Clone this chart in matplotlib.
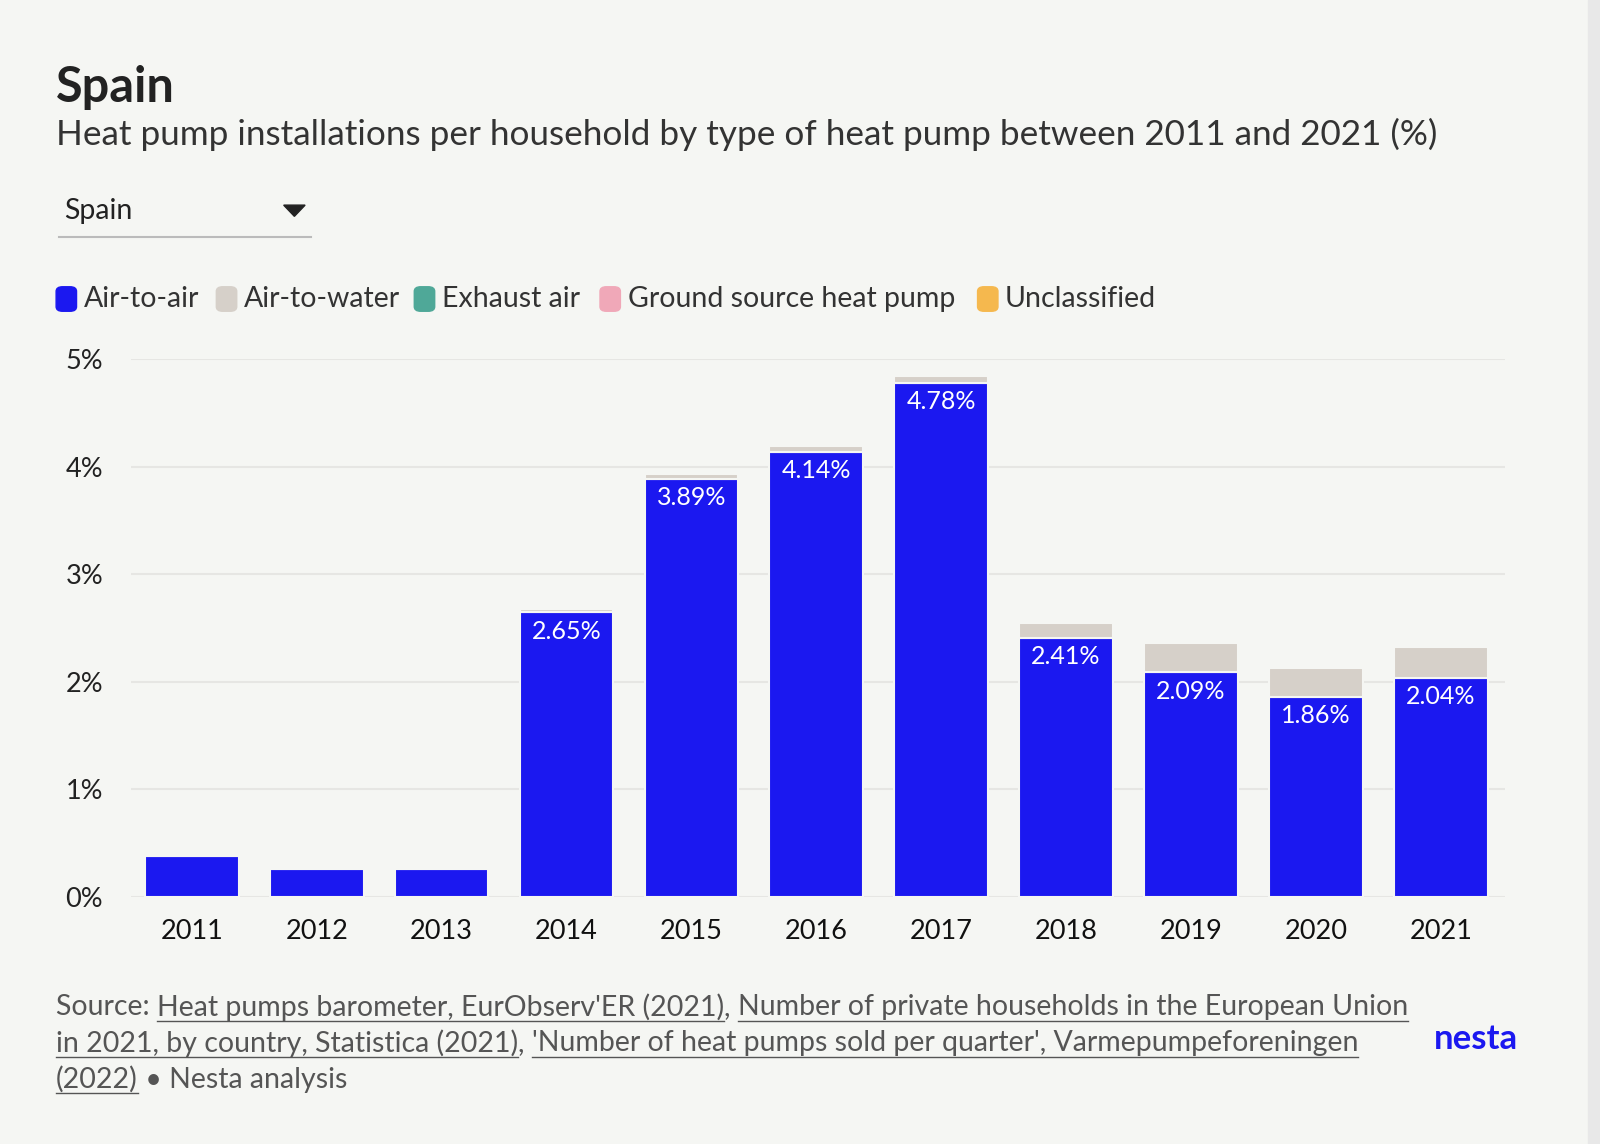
import matplotlib
matplotlib.use("Agg")
import matplotlib.pyplot as plt
from matplotlib.patches import FancyBboxPatch, Polygon
from matplotlib.lines import Line2D

years = ["2011","2012","2013","2014","2015","2016","2017","2018","2019","2020","2021"]
air_to_air = [0.38,0.26,0.26,2.65,3.89,4.14,4.78,2.41,2.09,1.86,2.04]
air_to_water = [0.01,0.01,0.01,0.03,0.04,0.05,0.06,0.14,0.27,0.27,0.28]
labels_shown = [False,False,False,True,True,True,True,True,True,True,True]
legend_names = ["Air-to-air","Air-to-water","Exhaust air","Ground source heat pump","Unclassified"]
legend_cols = ["#1b18f0","#d6d0c9","#4fa898","#f0a8b8","#f5b84e"]
yticks = [0,1,2,3,4,5]

BG = "#f5f6f3"
plt.rcParams['font.family'] = ['Lato', 'DejaVu Sans']
fig = plt.figure(figsize=(16,11.44), dpi=100, facecolor=BG)
W, H = 1568, 1121
def fx(x): return x/W
def fy(y): return 1-y/H

ax = fig.add_axes([fx(128), fy(879), fx(1475)-fx(128), fy(352)-fy(879)], facecolor=BG)
x = list(range(len(years)))
ax.bar(x, air_to_air, width=0.75, color=legend_cols[0], edgecolor=BG, linewidth=1.5, zorder=3)
ax.bar(x, air_to_water, bottom=air_to_air, width=0.75, color=legend_cols[1], edgecolor=BG, linewidth=1.5, zorder=3)
for i,(v,s) in enumerate(zip(air_to_air, labels_shown)):
    if s:
        ax.text(i, v-0.07, f"{v:.2f}%", ha="center", va="top", color="white", fontsize=18, zorder=4)
ax.set_ylim(0,5)
ax.set_xlim(-0.49, len(years)-0.485)
ax.set_yticks(yticks)
ax.set_yticklabels([f"{t}%" for t in yticks], fontsize=19.5, color="#222")
ax.set_xticks(x)
ax.set_xticklabels(years, fontsize=19.5, color="#111")
ax.tick_params(length=0, pad=16)
for lab in ax.get_yticklabels(): lab.set_horizontalalignment('left')
ax.tick_params(axis='y', pad=47)
ax.grid(axis='y', color="#e6e6e3", linewidth=1.5, zorder=0)
for s in ax.spines.values(): s.set_visible(False)

fig.text(fx(55), fy(86), "Spain", fontsize=35, fontweight="bold", color="#222", va="center")
fig.text(fx(55), fy(132), "Heat pump installations per household by type of heat pump between 2011 and 2021 (%)",
         fontsize=25.3, color="#333", va="center")
fig.text(fx(63), fy(207), "Spain", fontsize=20.5, color="#222", va="center")
fig.patches.append(Polygon([[fx(278),fy(201)],[fx(299),fy(201)],[fx(288.5),fy(212)]], closed=True,
                           transform=fig.transFigure, color="#222"))
fig.lines.append(Line2D([fx(58),fx(305)],[fy(232),fy(232)], transform=fig.transFigure, color="#bbb", lw=1.5))

lx = [55, 212, 406, 588, 958]
for px, name, c in zip(lx, legend_names, legend_cols):
    fig.patches.append(FancyBboxPatch((fx(px), fy(305)), fx(20), fy(281)-fy(305),
                        boxstyle="round,pad=0,rounding_size=0.004", transform=fig.transFigure, color=c))
    fig.text(fx(px+27), fy(293), name, fontsize=20.5, color="#333", va="center")

lines = [
    [("Source: ",False),("Heat pumps barometer, EurObserv'ER (2021)",True),(", ",False),
     ("Number of private households in the European Union",True)],
    [("in 2021, by country, Statistica (2021)",True),(", ",False),
     ("'Number of heat pumps sold per quarter', Varmepumpeforeningen",True)],
    [("(2022)",True),(" • Nesta analysis",False)],
]
fig.canvas.draw()
r = fig.canvas.get_renderer()
sc = 1600/W
for li, segs in enumerate(lines):
    yy = 987 + li*35.5
    cx = 55
    for txt, ul in segs:
        t = fig.text(fx(cx), fy(yy), txt, fontsize=20.5, color="#555", va="center")
        bb = t.get_window_extent(renderer=r)
        wpx = bb.width/sc
        if ul:
            fig.lines.append(Line2D([fx(cx), fx(cx+wpx)],[fy(yy+13),fy(yy+13)],
                                    transform=fig.transFigure, color="#555", lw=1))
        cx += wpx
fig.text(fx(1488), fy(1018), "nesta", fontsize=25, fontweight="bold", color="#1b18f0", ha="right", va="center")
fig.patches.append(plt.Rectangle((fx(1556),0), 1, 1, transform=fig.transFigure, color="#e8e8e8"))

fig.savefig("out.png", dpi=100, facecolor=BG)
